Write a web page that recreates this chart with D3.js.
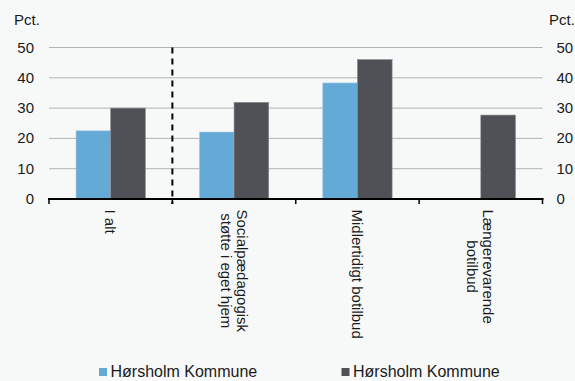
<!DOCTYPE html>
<html><head><meta charset="utf-8">
<script src="https://cdn.jsdelivr.net/npm/d3@7"></script>
<style>
html,body{margin:0;padding:0;background:#f7f9f9;}
svg{display:block;font-family:"Liberation Sans",Arial,sans-serif;}
</style></head>
<body>
<script>
const categories = [["I alt"], ["Socialpædagogisk", "støtte i eget hjem"], ["Midlertidigt botilbud"], ["Længerevarende", "botilbud"]];
const seriesNames = ["Hørsholm Kommune", "Hørsholm Kommune"];
const series1 = [22.5, 22.1, 38.3, null];
const series2 = [30.0, 31.9, 46.0, 27.7];
const yTicks = [0, 10, 20, 30, 40, 50];
const unitLabel = "Pct.";
const colors = ["#64aad6", "#505156"];

const W = 575, H = 381;
const m = {left: 49, right: 32.5};
const svg = d3.select("body").append("svg").attr("width", W).attr("height", H);

const x = d3.scaleBand().domain(d3.range(categories.length)).range([m.left, W - m.right]);
const y = d3.scaleLinear().domain([0, 50]).range([199, 47.5]);
const bw = x.bandwidth() * 0.281;
const FS = 15;

// gridlines
svg.append("g").selectAll("line").data(yTicks.filter(d => d > 0)).join("line")
  .attr("x1", m.left).attr("x2", W - m.right)
  .attr("y1", d => y(d)).attr("y2", d => y(d))
  .attr("stroke", "#b3b3b3").attr("stroke-width", 1);

// bars
const data = [series1, series2];
data.forEach((s, si) => {
  svg.append("g").selectAll("rect").data(s.map((v, i) => ({v, i})).filter(d => d.v != null)).join("rect")
    .attr("x", d => x(d.i) + x.bandwidth() / 2 - bw + si * bw)
    .attr("width", bw)
    .attr("y", d => y(d.v))
    .attr("height", d => y(0) - y(d.v))
    .attr("fill", colors[si])
    .attr("stroke", si === 0 ? "#a9cbe3" : "#8a8b8e").attr("stroke-width", 0.6);
});

// x axis
const xAxisG = svg.append("g").attr("transform", `translate(0,${y(0)})`);
xAxisG.append("line").attr("x1", m.left - 1).attr("x2", W - m.right + 1).attr("stroke", "#000").attr("stroke-width", 2);
const tickPos = d3.range(categories.length + 1).map(i => m.left + i * x.step());
xAxisG.selectAll(".tk").data(tickPos).join("line").attr("class", "tk")
  .attr("x1", d => d).attr("x2", d => d).attr("y1", 0).attr("y2", 5)
  .attr("stroke", "#000").attr("stroke-width", 1.5);

// dashed separator
svg.append("line").attr("x1", tickPos[1]).attr("x2", tickPos[1])
  .attr("y1", y(50)).attr("y2", y(0) + 5)
  .attr("stroke", "#000").attr("stroke-width", 2).attr("stroke-dasharray", "6,5");

// y labels
svg.append("g").selectAll("text").data(yTicks).join("text")
  .attr("x", 34).attr("y", d => y(d) + 5).attr("text-anchor", "end")
  .attr("font-size", FS).attr("fill", "#1a1a1a").text(d => d);
svg.append("g").selectAll("text").data(yTicks).join("text")
  .attr("x", 556.5).attr("y", d => y(d) + 5).attr("text-anchor", "start")
  .attr("font-size", FS).attr("fill", "#1a1a1a").text(d => d);
svg.append("text").attr("x", 14).attr("y", 25).attr("font-size", FS).attr("fill", "#1a1a1a").text(unitLabel);
svg.append("text").attr("x", 549).attr("y", 25).attr("font-size", FS).attr("fill", "#1a1a1a").text(unitLabel);

// category labels rotated, lines centred on each other, block anchored at top
categories.forEach((lines, i) => {
  const cx = x(i) + x.bandwidth() / 2;
  const n = lines.length;
  const lh = 16;
  const t = svg.append("text")
    .attr("transform", `translate(${cx + (n - 1) * lh / 2 - 5.5},209.5) rotate(90)`)
    .attr("font-size", FS).attr("fill", "#1a1a1a").attr("text-anchor", "middle");
  const spans = lines.map((l, li) => t.append("tspan").attr("x", 0).attr("y", li * lh).text(l));
  const maxLen = d3.max(spans, s => s.node().getComputedTextLength());
  spans.forEach(s => s.attr("x", maxLen / 2));
});

// legend
const legX = [99, 341.5];
seriesNames.forEach((n, i) => {
  svg.append("rect").attr("x", legX[i]).attr("y", 368).attr("width", 8).attr("height", 8).attr("fill", colors[i]);
  svg.append("text").attr("x", legX[i] + 11.5).attr("y", 377).attr("font-size", 16).attr("fill", "#1a1a1a").text(n);
});
</script>
</body></html>
